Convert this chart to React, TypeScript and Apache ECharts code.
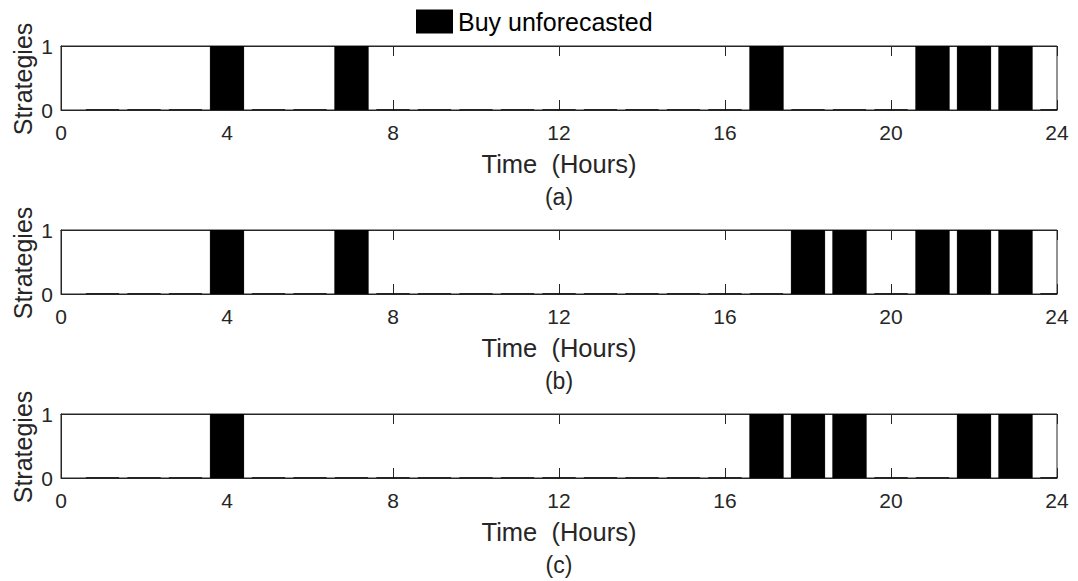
import React, { useEffect, useRef } from "react";
import * as echarts from "echarts";

// Hourly decision (1 = buy unforecasted energy) for each of the three scenarios
const hours = [1, 2, 3, 4, 5, 6, 7, 8, 9, 10, 11, 12, 13, 14, 15, 16, 17, 18, 19, 20, 21, 22, 23, 24];
const strategyA = [0, 0, 0, 1, 0, 0, 1, 0, 0, 0, 0, 0, 0, 0, 0, 0, 1, 0, 0, 0, 1, 1, 1, 0];
const strategyB = [0, 0, 0, 1, 0, 0, 1, 0, 0, 0, 0, 0, 0, 0, 0, 0, 0, 1, 1, 0, 1, 1, 1, 0];
const strategyC = [0, 0, 0, 1, 0, 0, 0, 0, 0, 0, 0, 0, 0, 0, 0, 0, 1, 1, 1, 0, 0, 1, 1, 0];
const panelLabels = ["(a)", "(b)", "(c)"];
const xTicks = [0, 4, 8, 12, 16, 20, 24];
const legendName = "Buy unforecasted";
const yTitle = "Strategies";

const FONT = "'Liberation Sans', Arial, Helvetica, sans-serif";
const INK = "#262626";

export default function App() {
  const ref = useRef<HTMLDivElement | null>(null);

  useEffect(() => {
    if (!ref.current) return;
    const chart = echarts.init(ref.current, undefined, { renderer: "svg" });

    const panels = [strategyA, strategyB, strategyC];
    const plotLeft = 61;
    const plotRight = 21;
    const plotTop0 = 46;
    const plotH = 64;
    const step = 184;

    const grids: any[] = [];
    const xAxes: any[] = [];
    const yAxes: any[] = [];
    const series: any[] = [];
    const graphics: any[] = [];

    panels.forEach((vals, i) => {
      const top = plotTop0 + i * step;
      grids.push({
        left: plotLeft,
        right: plotRight,
        top,
        height: plotH,
        show: true,
        borderColor: INK,
        borderWidth: 1,
        backgroundColor: "#fff",
        containLabel: false,
        outerBoundsMode: "none",
      });
      // bottom axis with labels
      xAxes.push({
        type: "value",
        gridIndex: i,
        min: 0,
        max: 24,
        interval: 4,
        position: "bottom",
        name: "Time  (Hours)",
        nameLocation: "middle",
        nameGap: 41,
        nameTextStyle: { fontFamily: FONT, fontSize: 25.5, color: INK },
        axisLine: { show: true, lineStyle: { color: INK, width: 1 } },
        axisTick: { show: true, inside: true, length: 10, lineStyle: { color: INK } },
        axisLabel: {
          show: true,
          margin: 12,
          fontFamily: FONT,
          fontSize: 21,
          color: INK,
          customValues: xTicks,
        },
        splitLine: { show: false },
      });
      // top axis mirroring the ticks
      xAxes.push({
        type: "value",
        gridIndex: i,
        min: 0,
        max: 24,
        interval: 4,
        position: "top",
        axisLine: { show: true, lineStyle: { color: INK, width: 1 } },
        axisTick: { show: true, inside: true, length: 10, lineStyle: { color: INK } },
        axisLabel: { show: false },
        splitLine: { show: false },
      });
      yAxes.push({
        type: "value",
        gridIndex: i,
        min: 0,
        max: 1,
        interval: 1,
        position: "left",
        axisLine: { show: true, lineStyle: { color: INK, width: 1 } },
        axisTick: { show: true, inside: true, length: 10, lineStyle: { color: INK } },
        axisLabel: {
          show: true,
          margin: 8,
          fontFamily: FONT,
          fontSize: 21,
          color: INK,
          padding: [7, 0, 0, 0],
        },
        splitLine: { show: false },
      });

      series.push({
        type: "custom",
        name: legendName,
        xAxisIndex: i * 2,
        yAxisIndex: i,
        clip: true,
        encode: { x: 0, y: 1 },
        data: hours.map((h, k) => [h, vals[k]]),
        renderItem: (_params: any, api: any) => {
          const x = api.value(0);
          const y = api.value(1);
          const p0 = api.coord([x - 0.4, 0]);
          const p1 = api.coord([x + 0.4, y]);
          return {
            type: "rect",
            shape: {
              x: p0[0],
              y: p1[1],
              width: p1[0] - p0[0],
              height: Math.max(p0[1] - p1[1], 0),
            },
            style: { fill: "#000", stroke: "#000", lineWidth: 1 },
          };
        },
      });

      // rotated y-axis title
      graphics.push({
        type: "text",
        x: 23,
        y: top + plotH / 2 + 1,
        rotation: Math.PI / 2,
        style: {
          text: yTitle,
          fontFamily: FONT,
          fontSize: 25,
          fill: INK,
          textAlign: "center",
          textVerticalAlign: "middle",
        },
      });

      graphics.push({
        type: "text",
        x: 559,
        y: top + plotH + 87,
        style: {
          text: panelLabels[i],
          fontFamily: FONT,
          fontSize: 23,
          fill: INK,
          textAlign: "center",
          textVerticalAlign: "middle",
        },
      });
    });

    chart.setOption({
      animation: false,
      backgroundColor: "#fff",
      grid: grids,
      xAxis: xAxes,
      yAxis: yAxes,
      series,
      legend: {
        data: [{ name: legendName, icon: "rect", itemStyle: { color: "#000" } }],
        left: 416,
        top: 9,
        padding: 0,
        itemWidth: 37,
        itemHeight: 24,
        itemGap: 5,
        textStyle: { fontFamily: FONT, fontSize: 25, color: "#000", padding: [0, 0, 0, 0] },
        selectedMode: false,
      },
      graphic: graphics,
    });

    return () => chart.dispose();
  }, []);

  return (
    <div
      ref={ref}
      style={{ position: "fixed", left: 0, top: 0, width: 1078, height: 581, background: "#fff" }}
    />
  );
}
